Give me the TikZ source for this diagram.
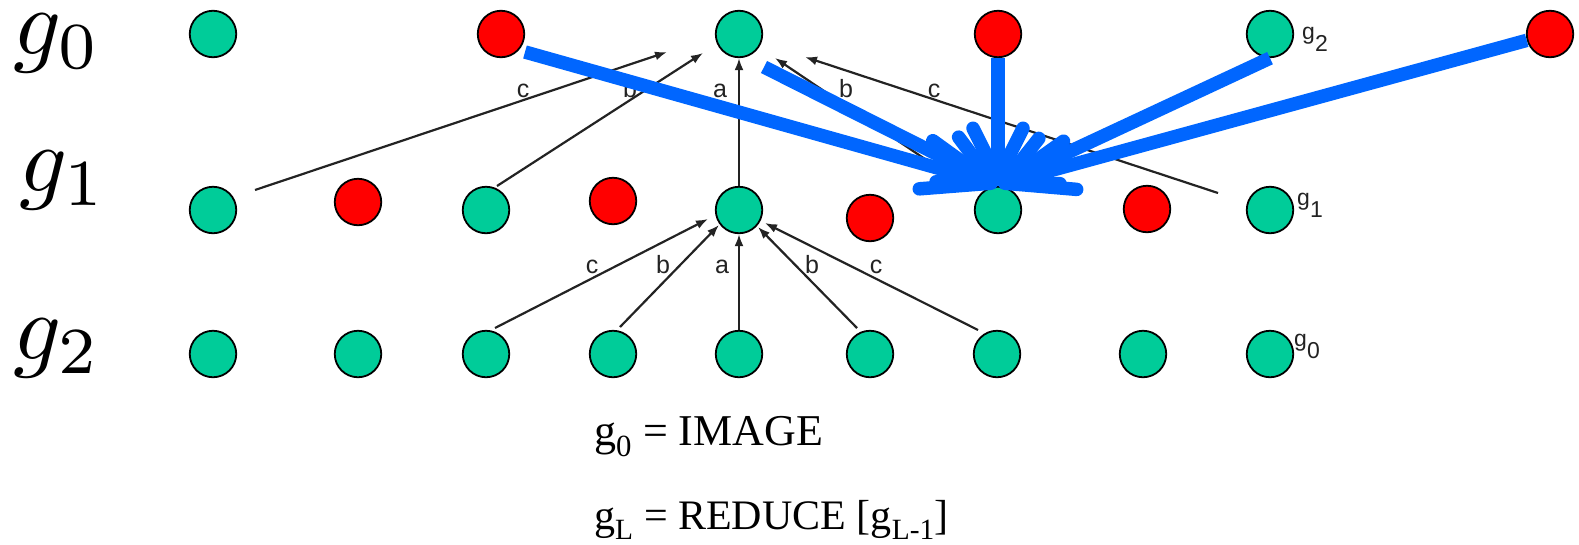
\documentclass[tikz,border=0pt]{standalone}
\usepackage{graphicx}
\usepackage{fontspec}
\newfontfamily\labfont{Liberation Sans}
\newfontfamily\capfont{Liberation Serif}
\usetikzlibrary{arrows.meta}
\definecolor{dotgreen}{RGB}{0,204,153}
\definecolor{dotred}{RGB}{255,0,0}
\definecolor{fatblue}{RGB}{0,102,255}
\definecolor{inkgray}{RGB}{35,35,35}
\tikzset{
  dot/.style={circle, draw=black, line width=1.8pt, minimum size=46.5pt, inner sep=0pt},
  thin arrow/.style={draw=inkgray, line width=2.2pt, -{Latex[length=12pt,width=9pt]}},
  fat arrow/.style={draw=fatblue, line width=13.5pt, -{Straight Barb[length=#1,width=50pt,round]}},
  fat arrow/.default=50pt,
  letter/.style={font=\labfont\fontsize{25}{25}\selectfont, text=inkgray, anchor=base, inner sep=0pt},
  levname/.style={font=\labfont\fontsize{23}{23}\selectfont, text=inkgray, anchor=base west, inner sep=0pt},
  bigname/.style={anchor=base west, inner sep=0pt},
}
\begin{document}
\begin{tikzpicture}[x=1pt,y=-1pt]
\useasboundingbox (0,0) rectangle (1579,544);

% level g0
\foreach \n/\x/\c in {1/213/dotgreen,2/501/dotred,3/739/dotgreen,4/998/dotred,5/1270/dotgreen,6/1550/dotred}{
	\node[dot, fill=\c] (t\n) at (\x,34) {};
}
% level g1
\foreach \n/\x/\y/\c in {1/213/210/dotgreen,2/358/202/dotred,3/486/210/dotgreen,4/613/201/dotred,5/739/210/dotgreen,6/870/218/dotred,7/998/210/dotgreen,8/1147/209/dotred,9/1270/210/dotgreen}{
	\node[dot, fill=\c] (m\n) at (\x,\y) {};
}
% level g2
\foreach \n/\x in {1/213,2/358,3/486,4/613,5/739,6/870,7/997,8/1143,9/1270}{
	\node[dot, fill=dotgreen] (b\n) at (\x,354) {};
}

\node[bigname] (lev0) at (13,54) {\scalebox{9.4}{$g_0$}};
\node[bigname] (lev1) at (19,191) {\scalebox{9.4}{$g_1$}};
\node[bigname] (lev2) at (13,359) {\scalebox{9.4}{$g_2$}};

% weights g1 -> g0
\coordinate (c1t) at (255,190); \coordinate (c1h) at (667,52);
\coordinate (b1t) at (497,186); \coordinate (b1h) at (703,53);
\coordinate (b2t) at (968,188); \coordinate (b2h) at (775,58);
\coordinate (c2t) at (1218,193); \coordinate (c2h) at (805,57);
\draw[thin arrow] (c1t) -- (c1h);
\draw[thin arrow] (b1t) -- (b1h);
\draw[thin arrow] (m5.north) -- (t3.south);
\draw[thin arrow] (b2t) -- (b2h);
\draw[thin arrow] (c2t) -- (c2h);

% weights g2 -> g1
\coordinate (c3t) at (495,328); \coordinate (c3h) at (708,219);
\coordinate (b3t) at (620,327); \coordinate (b3h) at (719,225);
\coordinate (b4t) at (857,328); \coordinate (b4h) at (758,227);
\coordinate (c4t) at (978,330); \coordinate (c4h) at (765,223);
\draw[thin arrow] (c3t) -- (c3h);
\draw[thin arrow] (b3t) -- (b3h);
\draw[thin arrow] (b5.north) -- (m5.south);
\draw[thin arrow] (b4t) -- (b4h);
\draw[thin arrow] (c4t) -- (c4h);

\foreach \n/\x/\w in {1/523/c,2/630/b,3/720/a,4/846/b,5/934/c}{
	\node[letter] (wt\n) at (\x,97) {\w};
}
\foreach \n/\x/\w in {1/592/c,2/663/b,3/722/a,4/812/b,5/876/c}{
	\node[letter] (wb\n) at (\x,273) {\w};
}

% fat arrows onto g1
\coordinate (tip) at (998,185);
\coordinate (s1) at (525,52);
\coordinate (s2) at (764,67);
\draw[fat arrow=68pt] (s1) -- (tip);
\draw[fat arrow] (s2) -- (tip);
\draw[fat arrow] (t4) -- (tip);
\draw[fat arrow] (t5.south) -- (tip);
\draw[fat arrow=68pt] (t6) -- (tip);

\node[levname] (rl2) at (1302,39) {g\raisebox{-12pt}{2}};
\node[levname] (rl1) at (1297,205) {g\raisebox{-12pt}{1}};
\node[levname] (rl0) at (1294,346) {g\raisebox{-12pt}{0}};

\node[anchor=base west, inner sep=0pt, font=\capfont\fontsize{44}{44}\selectfont] (def0) at (594,445) {g\textsubscript{0} = IMAGE};
\node[anchor=base west, inner sep=0pt, font=\capfont\fontsize{42}{42}\selectfont] (defL) at (594,529) {g\textsubscript{L} = REDUCE [g\textsubscript{L-1}]};
\end{tikzpicture}
\end{document}
